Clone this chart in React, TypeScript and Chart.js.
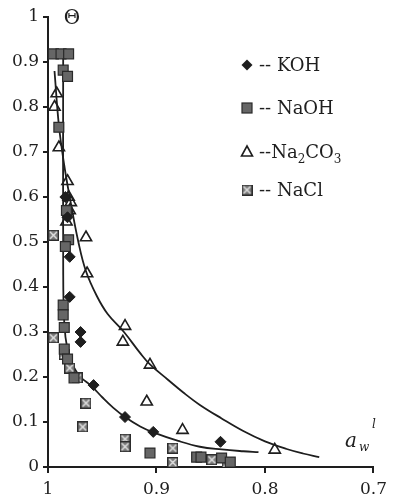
import React, { useEffect, useRef } from "react";
import { Chart, registerables } from "chart.js";
Chart.register(...registerables);

// ---- data ----
const xTicks = [1, 0.9, 0.8, 0.7];
const yTicks = [0, 0.1, 0.2, 0.3, 0.4, 0.5, 0.6, 0.7, 0.8, 0.9, 1];
const xTickLabels = ["1", "0.9", "0.8", "0.7"];
const yTickLabels = ["0", "0.1", "0.2", "0.3", "0.4", "0.5", "0.6", "0.7", "0.8", "0.9", "1"];

const kohX = [0.984, 0.982, 0.98, 0.98, 0.97, 0.97, 0.958, 0.929, 0.903, 0.841];
const kohY = [0.6, 0.555, 0.467, 0.378, 0.3, 0.278, 0.182, 0.111, 0.078, 0.056];

const naohX = [0.995, 0.988, 0.981, 0.986, 0.982, 0.99, 0.983, 0.981, 0.984, 0.986, 0.986, 0.985, 0.985, 0.982, 0.976, 0.906, 0.863, 0.859, 0.84, 0.832];
const naohY = [0.918, 0.918, 0.918, 0.882, 0.868, 0.755, 0.57, 0.505, 0.49, 0.36, 0.338, 0.31, 0.262, 0.24, 0.198, 0.031, 0.022, 0.022, 0.02, 0.011];

const na2co3X = [0.992, 0.994, 0.99, 0.982, 0.981, 0.979, 0.98, 0.983, 0.965, 0.964, 0.929, 0.931, 0.906, 0.909, 0.876, 0.791];
const na2co3Y = [0.83, 0.8, 0.71, 0.635, 0.6, 0.588, 0.57, 0.545, 0.51, 0.43, 0.313, 0.278, 0.227, 0.145, 0.082, 0.038];

const naclX = [0.995, 0.995, 0.985, 0.98, 0.973, 0.965, 0.968, 0.929, 0.929, 0.885, 0.885, 0.849, 0.835];
const naclY = [0.515, 0.287, 0.25, 0.22, 0.198, 0.142, 0.089, 0.062, 0.045, 0.042, 0.01, 0.016, 0.008];

const upperCurveX = [0.994, 0.99, 0.985, 0.98, 0.972, 0.965, 0.955, 0.945, 0.93, 0.915, 0.906, 0.89, 0.875, 0.86, 0.84, 0.82, 0.8, 0.78, 0.765, 0.75];
const upperCurveY = [0.88, 0.76, 0.67, 0.6, 0.5, 0.435, 0.38, 0.34, 0.3, 0.253, 0.228, 0.195, 0.165, 0.138, 0.108, 0.08, 0.057, 0.04, 0.03, 0.022];

const lowerCurveX = [0.986, 0.986, 0.985, 0.982, 0.977, 0.97, 0.96, 0.95, 0.94, 0.929, 0.915, 0.903, 0.88, 0.86, 0.84, 0.82, 0.806];
const lowerCurveY = [0.92, 0.45, 0.32, 0.26, 0.225, 0.2, 0.18, 0.155, 0.132, 0.111, 0.09, 0.077, 0.058, 0.045, 0.039, 0.035, 0.033];

const seriesNames = ["KOH", "NaOH", "Na2CO3", "NaCl"];

const pts = (xs: number[], ys: number[]) => xs.map((x, i) => ({ x, y: ys[i] }));

const INK = "#1e1e1e";
const SERIF = "'DejaVu Serif', 'Liberation Serif', serif";

function makeNaClMarker(): HTMLCanvasElement {
  const c = document.createElement("canvas");
  const s = 11;
  c.width = s;
  c.height = s;
  const g = c.getContext("2d")!;
  g.fillStyle = "#7c7c7c";
  g.fillRect(0, 0, s, s);
  g.strokeStyle = "#2c2c2c";
  g.lineWidth = 1.2;
  g.strokeRect(0.6, 0.6, s - 1.2, s - 1.2);
  g.strokeStyle = "#e8e8e8";
  g.lineWidth = 1.3;
  g.beginPath();
  g.moveTo(2, 2);
  g.lineTo(s - 2, s - 2);
  g.moveTo(s - 2, 2);
  g.lineTo(2, s - 2);
  g.stroke();
  return c;
}

function drawMarker(ctx: CanvasRenderingContext2D, kind: number, x: number, y: number, nacl: HTMLCanvasElement) {
  ctx.save();
  if (kind === 0) {
    ctx.fillStyle = INK;
    ctx.beginPath();
    ctx.moveTo(x, y - 5.5);
    ctx.lineTo(x + 5.5, y);
    ctx.lineTo(x, y + 5.5);
    ctx.lineTo(x - 5.5, y);
    ctx.closePath();
    ctx.fill();
  } else if (kind === 1) {
    ctx.fillStyle = "#666";
    ctx.strokeStyle = "#2a2a2a";
    ctx.lineWidth = 1.2;
    ctx.fillRect(x - 5, y - 5, 10, 10);
    ctx.strokeRect(x - 5, y - 5, 10, 10);
  } else if (kind === 2) {
    ctx.strokeStyle = INK;
    ctx.lineWidth = 1.6;
    ctx.beginPath();
    ctx.moveTo(x, y - 6);
    ctx.lineTo(x + 5.5, y + 4);
    ctx.lineTo(x - 5.5, y + 4);
    ctx.closePath();
    ctx.stroke();
  } else {
    ctx.drawImage(nacl, x - 5.5, y - 5.5);
  }
  ctx.restore();
}

export default function App() {
  const ref = useRef<HTMLCanvasElement | null>(null);

  useEffect(() => {
    if (!ref.current) return;
    const nacl = makeNaClMarker();

    const annot = {
      id: "annot",
      afterDraw(chart: any) {
        const ctx: CanvasRenderingContext2D = chart.ctx;
        const a = chart.chartArea;
        ctx.save();
        ctx.fillStyle = INK;
        ctx.textBaseline = "alphabetic";
        // axis titles
        ctx.font = `20px ${SERIF}`;
        ctx.textAlign = "center";
        ctx.fillText("Θ", a.left + 24, a.top + 7);
        ctx.textAlign = "left";
        ctx.font = `italic 20px ${SERIF}`;
        ctx.fillText("a", a.left + 297, a.bottom - 20);
        ctx.font = `italic 12px ${SERIF}`;
        ctx.fillText("w", a.left + 311, a.bottom - 16);
        ctx.fillText("l", a.left + 324, a.bottom - 39);
        // legend
        const lx = 247;
        const rows = [65, 108, 152, 190];
        rows.forEach((ry, i) => {
          drawMarker(ctx, i, lx, ry, nacl);
          ctx.fillStyle = INK;
          if (i === 2) {
            ctx.font = `18px ${SERIF}`;
            let x = 259;
            ctx.fillText("--Na", x, ry + 6);
            x += ctx.measureText("--Na").width;
            ctx.font = `12px ${SERIF}`;
            ctx.fillText("2", x, ry + 11);
            x += ctx.measureText("2").width;
            ctx.font = `18px ${SERIF}`;
            ctx.fillText("CO", x, ry + 6);
            x += ctx.measureText("CO").width;
            ctx.font = `12px ${SERIF}`;
            ctx.fillText("3", x, ry + 11);
          } else {
            ctx.font = `18px ${SERIF}`;
            ctx.fillText("-- " + seriesNames[i], 259, ry + 6);
          }
        });
        ctx.restore();
      },
    };

    const chart = new Chart(ref.current, {
      type: "scatter",
      data: {
        datasets: [
          {
            label: seriesNames[0],
            data: pts(kohX, kohY),
            pointStyle: "rectRot",
            pointRadius: 5.5,
            backgroundColor: INK,
            borderColor: INK,
            borderWidth: 1,
          },
          {
            label: seriesNames[1],
            data: pts(naohX, naohY),
            pointStyle: "rect",
            pointRadius: 7,
            backgroundColor: "#666",
            borderColor: "#2a2a2a",
            borderWidth: 1.2,
          },
          {
            label: seriesNames[2],
            data: pts(na2co3X, na2co3Y),
            pointStyle: "triangle",
            pointRadius: 6.5,
            backgroundColor: "rgba(255,255,255,0)",
            borderColor: INK,
            borderWidth: 1.6,
          },
          {
            label: seriesNames[3],
            data: pts(naclX, naclY),
            pointStyle: nacl as any,
            pointRadius: 5.5,
          },
          {
            label: "fit1",
            data: pts(upperCurveX, upperCurveY),
            showLine: true,
            pointRadius: 0,
            borderColor: INK,
            borderWidth: 1.8,
            tension: 0.4,
            fill: false,
          },
          {
            label: "fit2",
            data: pts(lowerCurveX, lowerCurveY),
            showLine: true,
            pointRadius: 0,
            borderColor: INK,
            borderWidth: 1.8,
            tension: 0.4,
            fill: false,
          },
        ] as any,
      },
      options: {
        animation: false,
        responsive: false,
        maintainAspectRatio: false,
        layout: { padding: { top: 17, right: 16, left: 0, bottom: 0 } },
        plugins: { legend: { display: false }, tooltip: { enabled: false } },
        scales: {
          x: {
            type: "linear",
            reverse: true,
            min: 0.7,
            max: 1,
            afterBuildTicks: (s: any) => {
              s.ticks = xTicks.map((v) => ({ value: v }));
            },
            afterFit: (s: any) => {
              s.height = 34;
            },
            grid: { drawOnChartArea: false, drawTicks: true, tickLength: 6, tickColor: INK, lineWidth: 2 },
            border: { display: true, color: INK, width: 2 },
            ticks: {
              color: INK,
              padding: 6,
              maxRotation: 0,
              font: { family: SERIF, size: 17 },
              callback: (v: any) => {
                const i = xTicks.findIndex((t) => Math.abs(t - Number(v)) < 1e-6);
                return i >= 0 ? xTickLabels[i] : "";
              },
            },
          },
          y: {
            type: "linear",
            min: 0,
            max: 1,
            afterBuildTicks: (s: any) => {
              s.ticks = yTicks.map((v) => ({ value: v }));
            },
            afterFit: (s: any) => {
              s.width = 48;
            },
            grid: { drawOnChartArea: false, drawTicks: true, tickLength: 5, tickColor: INK, lineWidth: 2 },
            border: { display: true, color: INK, width: 2 },
            ticks: {
              color: INK,
              padding: 4,
              font: { family: SERIF, size: 17 },
              callback: (v: any) => {
                const i = yTicks.findIndex((t) => Math.abs(t - Number(v)) < 1e-6);
                return i >= 0 ? yTickLabels[i] : "";
              },
            },
          },
        },
      },
      plugins: [annot],
    });
    return () => chart.destroy();
  }, []);

  return (
    <div style={{ position: "fixed", left: 0, top: 0, width: 393, height: 501, background: "#fff" }}>
      <canvas ref={ref} width={393} height={501} style={{ width: 393, height: 501, display: "block" }} />
    </div>
  );
}
